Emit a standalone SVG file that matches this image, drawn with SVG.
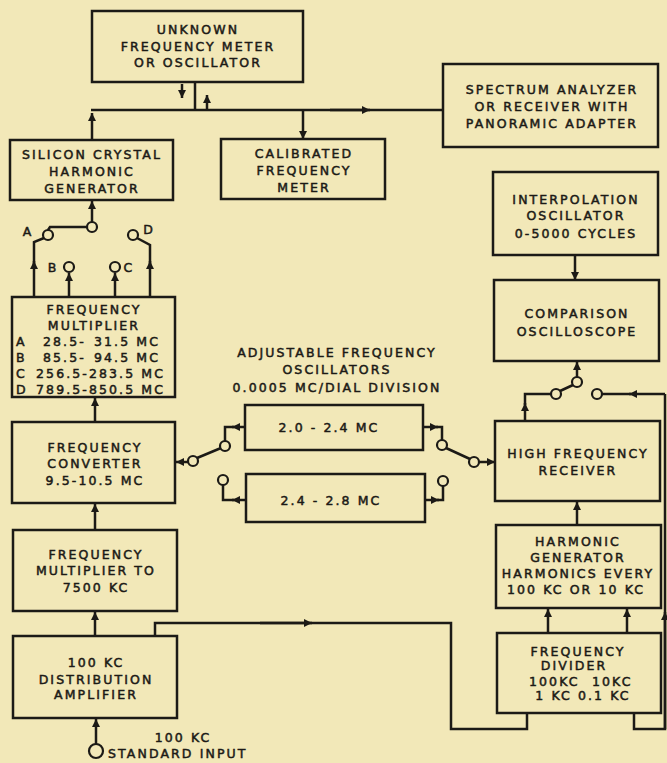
<svg xmlns="http://www.w3.org/2000/svg" width="667" height="763" viewBox="0 0 667 763">
<defs>
<marker id="ah" viewBox="0 0 10 10" refX="10" refY="5" markerWidth="8" markerHeight="8" markerUnits="userSpaceOnUse" orient="auto"><path d="M0,0 L10,5 L0,10 z" fill="#1c1a16"/></marker>
<style>
.bx{fill:none;stroke:#1c1a16;stroke-width:2.5}
.c{fill:none;stroke:#1c1a16;stroke-width:2.5;stroke-linejoin:miter}
.a{fill:none;stroke:#1c1a16;stroke-width:2.5;marker-end:url(#ah)}
.o{fill:#f2e8b8;stroke:#1c1a16;stroke-width:2.2}
text{font-family:"DejaVu Sans","Liberation Sans",sans-serif;font-size:12.5px;fill:#1c1a16;stroke:#1c1a16;stroke-width:0.5px;letter-spacing:2.1px;text-anchor:middle}
.s{text-anchor:start}
.e{text-anchor:end}
</style>
</defs>
<rect width="667" height="763" fill="#f2e8b8"/>

<g id="connectors">
<line class="c" x1="195" y1="82" x2="195" y2="110"/>
<line class="a" x1="182" y1="84" x2="182" y2="98"/>
<line class="a" x1="207" y1="110" x2="207" y2="95"/>
<line class="c" x1="91" y1="110" x2="443" y2="110"/>
<line class="a" x1="330" y1="110" x2="370" y2="110"/>
<line class="a" x1="92" y1="140" x2="92" y2="113"/>
<line class="a" x1="303" y1="110" x2="303" y2="139"/>
<line class="a" x1="92" y1="222" x2="92" y2="201"/>
<path class="c" d="M48,230 L50,227 L87,227"/>
<path class="c" d="M34,265 L34,242 L44,238"/>
<line class="a" x1="34" y1="297" x2="34" y2="261"/>
<path class="c" d="M150,265 L150,245 L137,238"/>
<line class="a" x1="150" y1="297" x2="150" y2="261"/>
<line class="a" x1="69" y1="297" x2="69" y2="273"/>
<line class="a" x1="115" y1="297" x2="115" y2="273"/>
<line class="a" x1="95" y1="422" x2="95" y2="398"/>
<line class="a" x1="95" y1="530" x2="95" y2="504"/>
<line class="a" x1="95" y1="636" x2="95" y2="612"/>
<line class="a" x1="96" y1="744" x2="96" y2="719"/>
<line class="a" x1="188" y1="462" x2="176" y2="462"/>
<line class="c" x1="197" y1="458" x2="221" y2="448"/>
<line class="a" x1="245" y1="427" x2="232" y2="427"/>
<path class="c" d="M234,427 L225,427 L225,441"/>
<line class="a" x1="246" y1="500" x2="232" y2="500"/>
<path class="c" d="M234,500 L223,500 L223,485"/>
<line class="a" x1="423" y1="427" x2="438" y2="427"/>
<path class="c" d="M436,427 L442,427 L442,440"/>
<line class="c" x1="446" y1="448" x2="470" y2="459"/>
<line class="a" x1="479" y1="462" x2="495" y2="462"/>
<line class="a" x1="425" y1="500" x2="439" y2="500"/>
<path class="c" d="M437,500 L443,500 L443,486"/>
<line class="a" x1="575" y1="255" x2="575" y2="280"/>
<line class="a" x1="577" y1="377" x2="577" y2="362"/>
<line class="c" x1="573" y1="385" x2="560" y2="391"/>
<line class="a" x1="525" y1="421" x2="525" y2="403"/>
<path class="c" d="M525,405 L525,394 L551,394"/>
<line class="a" x1="665" y1="394" x2="629" y2="394"/>
<line class="c" x1="631" y1="394" x2="602" y2="394"/>
<path class="c" d="M665,394 L665,729 L634,729 L634,713"/>
<line class="a" x1="665" y1="729" x2="665" y2="612"/>
<line class="a" x1="577" y1="525" x2="577" y2="502"/>
<line class="a" x1="548" y1="633" x2="548" y2="609"/>
<line class="a" x1="627" y1="633" x2="627" y2="609"/>
<path class="c" d="M155,636 L155,623 L451,623 L451,729 L527,729 L527,713"/>
<line class="a" x1="260" y1="623" x2="312" y2="623"/>
</g>

<g id="contacts">
<circle class="o" cx="92" cy="227" r="5"/>
<circle class="o" cx="48" cy="235" r="5"/>
<circle class="o" cx="133" cy="235" r="5"/>
<circle class="o" cx="69" cy="267" r="5"/>
<circle class="o" cx="115" cy="267" r="5"/>
<circle class="o" cx="193" cy="461" r="5"/>
<circle class="o" cx="225" cy="446" r="5"/>
<circle class="o" cx="223" cy="480" r="5"/>
<circle class="o" cx="442" cy="445" r="5"/>
<circle class="o" cx="474" cy="462" r="5"/>
<circle class="o" cx="443" cy="481" r="5"/>
<circle class="o" cx="577" cy="382" r="5"/>
<circle class="o" cx="556" cy="394" r="5"/>
<circle class="o" cx="597" cy="394" r="5"/>
<circle class="o" cx="96" cy="751" r="7"/>
<text x="28" y="236">A</text>
<text x="53" y="272">B</text>
<text x="129" y="272">C</text>
<text x="149" y="234">D</text>
<text x="183" y="742">100 KC</text>
<text class="s" x="108" y="758">STANDARD INPUT</text>
</g>

<g id="unknown">
<rect class="bx" x="92" y="11" width="211" height="71"/>
<text x="198" y="34">UNKNOWN</text>
<text x="198" y="51">FREQUENCY METER</text>
<text x="198" y="67">OR OSCILLATOR</text>
</g>

<g id="silicon">
<rect class="bx" x="10" y="140" width="163" height="60"/>
<text x="92" y="159">SILICON CRYSTAL</text>
<text x="92" y="176">HARMONIC</text>
<text x="92" y="193">GENERATOR</text>
</g>

<g id="calibrated">
<rect class="bx" x="221" y="139" width="164" height="60"/>
<text x="304" y="158">CALIBRATED</text>
<text x="304" y="175">FREQUENCY</text>
<text x="304" y="192">METER</text>
</g>

<g id="spectrum">
<rect class="bx" x="443" y="64" width="215" height="83"/>
<text x="552" y="94">SPECTRUM ANALYZER</text>
<text x="552" y="111">OR RECEIVER WITH</text>
<text x="552" y="128">PANORAMIC ADAPTER</text>
</g>

<g id="interpolation">
<rect class="bx" x="493" y="172" width="165" height="83"/>
<text x="576" y="204">INTERPOLATION</text>
<text x="576" y="220">OSCILLATOR</text>
<text x="576" y="238">0-5000 CYCLES</text>
</g>

<g id="comparison">
<rect class="bx" x="494" y="280" width="165" height="81"/>
<text x="577" y="318">COMPARISON</text>
<text x="577" y="336">OSCILLOSCOPE</text>
</g>

<g id="receiver">
<rect class="bx" x="495" y="421" width="165" height="80"/>
<text x="578" y="458">HIGH FREQUENCY</text>
<text x="578" y="475">RECEIVER</text>
</g>

<g id="harmonic">
<rect class="bx" x="496" y="525" width="165" height="83"/>
<text x="578" y="546">HARMONIC</text>
<text x="578" y="562">GENERATOR</text>
<text x="578" y="578">HARMONICS EVERY</text>
<text x="576" y="594">100 KC OR 10 KC</text>
</g>

<g id="divider">
<rect class="bx" x="497" y="633" width="164" height="80"/>
<text x="578" y="656">FREQUENCY</text>
<text x="574" y="670">DIVIDER</text>
<text class="s" x="529" y="686">100KC</text>
<text class="s" x="592" y="686">10KC</text>
<text x="583" y="700">1 KC 0.1 KC</text>
</g>

<g id="adjustable-label">
<text x="337" y="357">ADJUSTABLE FREQUENCY</text>
<text x="337" y="374">OSCILLATORS</text>
<text x="337" y="392">0.0005 MC/DIAL DIVISION</text>
</g>

<g id="osc1">
<rect class="bx" x="245" y="405" width="178" height="45"/>
<text x="329" y="432">2.0 - 2.4 MC</text>
</g>

<g id="osc2">
<rect class="bx" x="246" y="474" width="179" height="48"/>
<text x="331" y="505">2.4 - 2.8 MC</text>
</g>

<g id="multiplier">
<rect class="bx" x="12" y="297" width="163" height="100"/>
<text x="94" y="314">FREQUENCY</text>
<text x="94" y="330">MULTIPLIER</text>
<text class="s" x="16" y="346">A</text>
<text class="s" x="43" y="346">28.5-</text>
<text class="e" x="160" y="346">31.5 MC</text>
<text class="s" x="16" y="362">B</text>
<text class="s" x="43" y="362">85.5-</text>
<text class="e" x="160" y="362">94.5 MC</text>
<text class="s" x="16" y="378">C</text>
<text class="e" x="165" y="378">256.5-283.5 MC</text>
<text class="s" x="16" y="394">D</text>
<text class="e" x="165" y="394">789.5-850.5 MC</text>
</g>

<g id="converter">
<rect class="bx" x="12" y="422" width="163" height="81"/>
<text x="95" y="452">FREQUENCY</text>
<text x="95" y="468">CONVERTER</text>
<text x="95" y="485">9.5-10.5 MC</text>
</g>

<g id="mult7500">
<rect class="bx" x="13" y="530" width="164" height="81"/>
<text x="96" y="559">FREQUENCY</text>
<text x="96" y="575">MULTIPLIER TO</text>
<text x="96" y="592">7500 KC</text>
</g>

<g id="distribution">
<rect class="bx" x="13" y="636" width="164" height="82"/>
<text x="96" y="667">100 KC</text>
<text x="96" y="684">DISTRIBUTION</text>
<text x="96" y="699">AMPLIFIER</text>
</g>
</svg>
